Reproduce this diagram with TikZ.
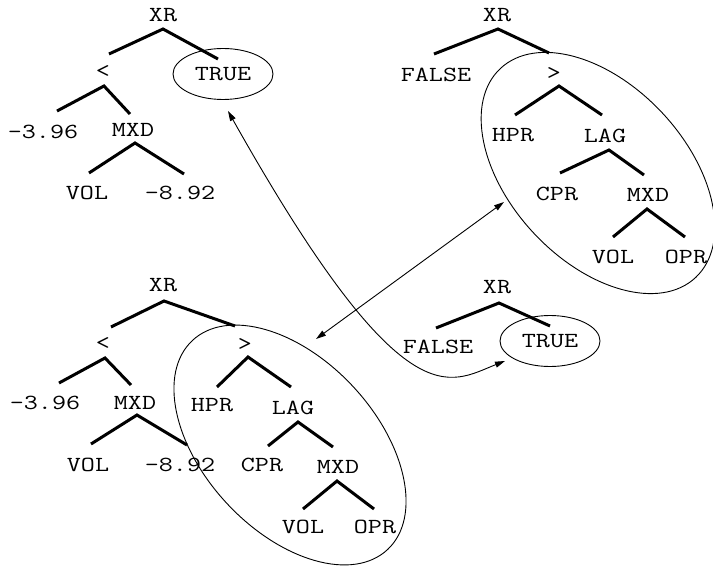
\documentclass[tikz,border=0pt]{standalone}
\usepackage{fontspec}
\newfontfamily\courlike[FakeStretch=1.27]{Latin Modern Mono}
\usetikzlibrary{arrows.meta,calc,shapes.geometric}
\begin{document}
\begin{tikzpicture}[x=1bp,y=-1bp,
  lbl/.style={font=\courlike\fontsize{21.5bp}{24bp}\selectfont, inner sep=0pt},
  br/.style={line width=3bp},
  thinline/.style={line width=0.9bp},
  oval/.style={draw, ellipse, line width=0.9bp, minimum width=100bp, minimum height=51bp, inner sep=0pt, font=\courlike\fontsize{21.5bp}{24bp}\selectfont},
  arr/.style={line width=0.9bp, {Triangle[length=10bp,width=6bp]}-{Triangle[length=10bp,width=6bp]}}]
\clip (0,0) rectangle (713,569);
% ---------- Tree A (top left)
\node[lbl] (aXR) at (163,15) {XR};
\node[lbl] (aLT) at (103,72) {<};
\node[oval] (aTR) at (223,74) {TRUE};
\node[lbl] (aN1) at (43,132) {-3.96};
\node[lbl] (aMX) at (133,130) {MXD};
\node[lbl] (aVO) at (87,193) {VOL};
\node[lbl] (aN2) at (180,193) {-8.92};
\draw[br] ($(aLT)+(6,-18)$) -- ($(aXR)+(0,14)$) -- ($(aTR)+(-5,-15)$);
\draw[br] ($(aN1)+(14,-21)$) -- ($(aLT)+(1,14)$) -- ($(aMX)+(-3,-16)$);
\draw[br] ($(aVO)+(2,-20)$) -- ($(aMX)+(2,13)$) -- ($(aN2)+(4,-19)$);
% ---------- Tree B (top right)
\node[lbl] (bXR) at (497,15) {XR};
\node[lbl] (bFA) at (436,75) {FALSE};
\node[lbl] (bGT) at (554,74) {>};
\node[lbl] (bHP) at (513,135) {HPR};
\node[lbl] (bLA) at (605,136) {LAG};
\node[lbl] (bCP) at (557,194) {CPR};
\node[lbl] (bMX) at (648,195) {MXD};
\node[lbl] (bVO) at (613,257) {VOL};
\node[lbl] (bOP) at (686,257) {OPR};
\draw[br] ($(bFA)+(-2,-21)$) -- ($(bXR)+(1,14)$) -- ($(bGT)+(-5,-21)$);
\draw[br] ($(bHP)+(2,-20)$) -- ($(bGT)+(5,12)$) -- ($(bLA)+(-3,-21)$);
\draw[br] ($(bCP)+(3,-21)$) -- ($(bLA)+(4,14)$) -- ($(bMX)+(-4,-20)$);
\draw[br] ($(bVO)+(0,-20)$) -- ($(bMX)+(-1,14)$) -- ($(bOP)+(-1,-20)$);
\draw[thinline, rotate around={-47:(598,173)}] (598,173) ellipse [x radius=143bp, y radius=88bp];
% ---------- Tree C (bottom left)
\node[lbl] (cXR) at (163,285) {XR};
\node[lbl] (cLT) at (103,344) {<};
\node[lbl] (cGT) at (245,345) {>};
\node[lbl] (cN1) at (45,403) {-3.96};
\node[lbl] (cMX) at (135,403) {MXD};
\node[lbl] (cHP) at (212,405) {HPR};
\node[lbl] (cLA) at (293,408) {LAG};
\node[lbl] (cVO) at (88,465) {VOL};
\node[lbl] (cN2) at (180,465) {-8.92};
\node[lbl] (cCP) at (262,465) {CPR};
\node[lbl] (cM2) at (338,467) {MXD};
\node[lbl] (cV2) at (303,527) {VOL};
\node[lbl] (cOP) at (375,527) {OPR};
\draw[br] ($(cLT)+(8,-17)$) -- ($(cXR)+(1,16)$) -- ($(cGT)+(-10,-19)$);
\draw[br] ($(cN1)+(14,-20)$) -- ($(cLT)+(2,14)$) -- ($(cMX)+(-4,-18)$);
\draw[br] ($(cHP)+(5,-18)$) -- ($(cGT)+(3,12)$) -- ($(cLA)+(-2,-21)$);
\draw[br] ($(cVO)+(3,-21)$) -- ($(cMX)+(2,12)$) -- ($(cN2)+(7,-20)$);
\draw[br] ($(cCP)+(6,-19)$) -- ($(cLA)+(5,14)$) -- ($(cM2)+(-5,-20)$);
\draw[br] ($(cV2)+(0,-18)$) -- ($(cM2)+(-1,14)$) -- ($(cOP)+(-1,-18)$);
\draw[thinline, rotate around={-47:(290,445)}] (290,445) ellipse [x radius=143bp, y radius=86bp];
% ---------- Tree D (bottom right)
\node[lbl] (dXR) at (497,287) {XR};
\node[lbl] (dFA) at (438,347) {FALSE};
\node[oval] (dTR) at (550,341) {TRUE};
\draw[br] ($(dFA)+(-2,-19)$) -- ($(dXR)+(2,16)$) -- ($(dTR)+(0,-15)$);
% ---------- arrows
\coordinate (e1) at (316,339);
\coordinate (e2) at (504,202);
\draw[arr] (e1) -- (e2);
\coordinate (f1) at (228,111);
\coordinate (f2) at (505,361);
\draw[arr] (f1) .. controls (404,424) and (449,383) .. (f2);
\end{tikzpicture}
\end{document}
